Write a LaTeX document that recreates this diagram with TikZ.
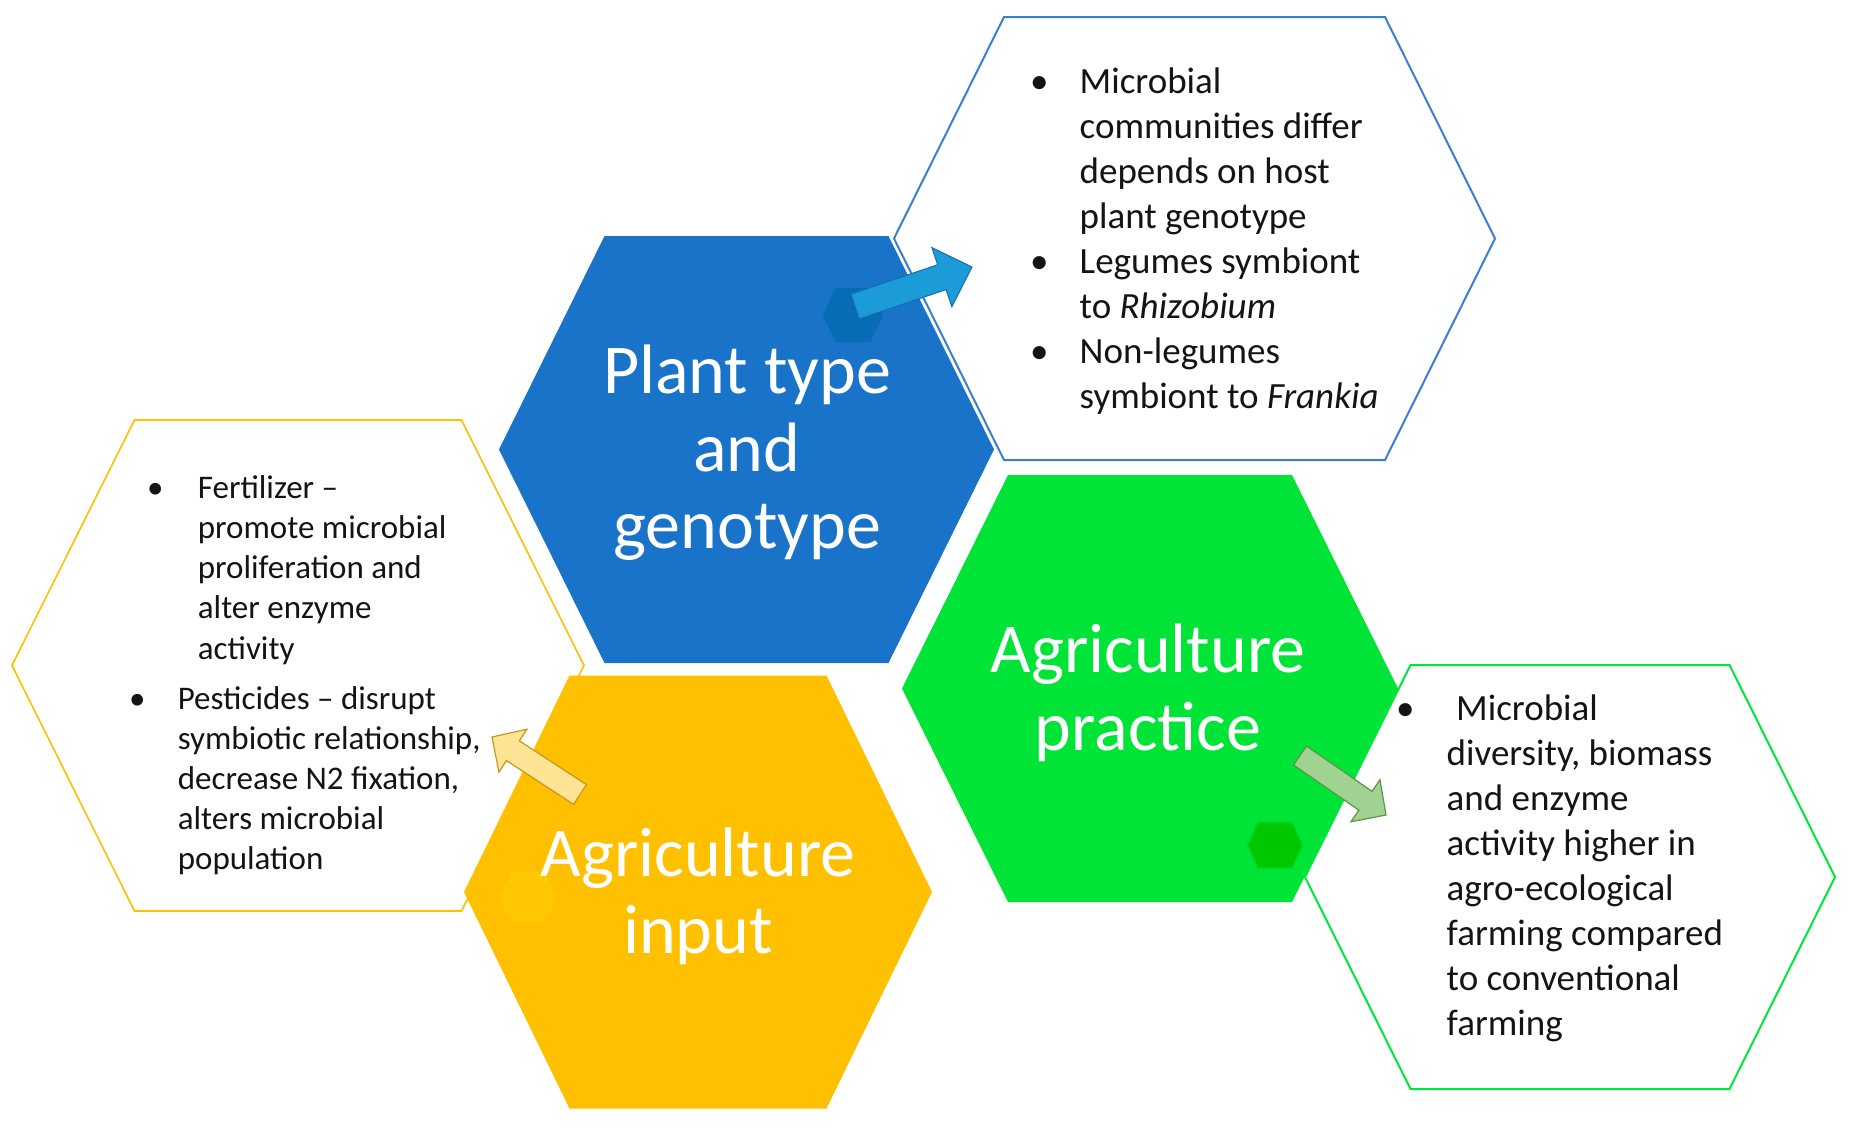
\documentclass[tikz,border=0pt]{standalone}
\usepackage{fontspec}
\setmainfont{Carlito}
\usetikzlibrary{calc}
\definecolor{hexblue}{RGB}{24,115,201}
\definecolor{hexgreen}{RGB}{0,228,56}
\definecolor{hexyellow}{RGB}{255,192,0}
\definecolor{smblue}{RGB}{6,108,182}
\definecolor{smgreen}{RGB}{0,200,0}
\definecolor{smgreenl}{RGB}{0,215,30}
\definecolor{smyellow}{RGB}{255,200,0}
\definecolor{olblue}{RGB}{58,127,213}
\definecolor{olgreen}{RGB}{0,230,60}
\definecolor{olyellow}{RGB}{255,192,0}
\definecolor{arblue}{RGB}{27,155,215}
\definecolor{arbluel}{RGB}{20,110,170}
\definecolor{aryellow}{RGB}{255,228,150}
\definecolor{aryellowl}{RGB}{200,150,30}
\definecolor{argreen}{RGB}{160,210,145}
\definecolor{argreenl}{RGB}{90,150,70}
\definecolor{txt}{RGB}{20,20,20}
\tikzset{
  hexa/.style n args={5}{insert path={({#1-#3},{#2}) -- ({#1-#4},{#2-#5}) -- ({#1+#4},{#2-#5}) -- ({#1+#3},{#2}) -- ({#1+#4},{#2+#5}) -- ({#1-#4},{#2+#5}) -- cycle}},
  title/.style={font=\fontsize{70}{77}\selectfont, text=white, inner sep=0pt, anchor=base},
  bodyl/.style={font=\fontsize{37}{45}\selectfont, text=txt, inner sep=0pt, anchor=base west},
  bodys/.style={font=\fontsize{33}{40}\selectfont, text=txt, inner sep=0pt, anchor=base west},
  olbox/.style={fill=white, line join=miter},
}
\newcommand\blockarrow[6]{%
  \coordinate (hbtmp) at ($(#3)!#6!(#2)$);
  \filldraw[#1] ($(#2)!#4!90:(#3)$) -- ($(hbtmp)!#4!90:(#3)$) -- ($(hbtmp)!#5!90:(#3)$) -- (#3) -- ($(hbtmp)!#5!-90:(#3)$) -- ($(hbtmp)!#4!-90:(#3)$) -- ($(#2)!#4!-90:(#3)$) -- cycle;}
\begin{document}
\begin{tikzpicture}[x=1pt, y=-1pt]
\useasboundingbox[fill=white] (0,0) rectangle (1856,1136);
% outlined white hexagons
\filldraw[olbox, draw=olblue, line width=2pt] [hexa={1194.5}{238.5}{300.5}{190.5}{221.5}];
\filldraw[olbox, draw=olyellow, line width=1.6pt] [hexa={298}{665.5}{286}{163.5}{245.5}];
\filldraw[olbox, draw=olgreen, line width=2pt] [hexa={1570}{877}{265}{159.5}{212}];
% coloured hexagons
\fill[hexblue] [hexa={746.5}{449.5}{247.5}{142}{213.5}];
\fill[hexgreen] [hexa={1150}{688.5}{248}{142}{213.5}];
\fill[hexyellow] [hexa={698}{892}{234}{128.5}{216.5}];
% small hexagons
\fill[smblue] [hexa={853}{315}{30}{17.5}{27}];
\fill[smyellow] [hexa={528}{897}{29.5}{16}{25}];
\filldraw[smgreen, draw=smgreenl, line width=1.5pt] [hexa={1275}{845}{27.5}{17}{23}];
% arrows
\coordinate (bt) at (855,306.5);
\coordinate (bh) at (972,267);
\blockarrow{fill=arblue, draw=arbluel, line width=1pt}{bt}{bh}{13.1pt}{31.2pt}{31.8pt}
\coordinate (yt) at (580,794.5);
\coordinate (yh) at (492,737);
\blockarrow{fill=aryellow, draw=aryellowl, line width=1.2pt}{yt}{yh}{11.8pt}{25.6pt}{25pt}
\coordinate (gt) at (1300,755.5);
\coordinate (gh) at (1386,815);
\blockarrow{fill=argreen, draw=argreenl, line width=1.2pt}{gt}{gh}{11.5pt}{25.5pt}{25pt}
% titles
\node[title] (pt1) at (747,393) {Plant type};
\node[title] (pt2) at (747,471) {and};
\node[title] (pt3) at (747,548) {genotype};
\node[title] (ap1) at (1148,672) {Agriculture};
\node[title] (ap2) at (1148,750) {practice};
\node[title] (ai1) at (698,876) {Agriculture};
\node[title] (ai2) at (698,953) {input};
% top-right list
\node[bodyl] (trb1) at (1030,93) {•};
\node[bodyl] (trb2) at (1030,273) {•};
\node[bodyl] (trb3) at (1030,363) {•};
\foreach \t [count=\i from 0] in {Microbial, communities differ, depends on host, plant genotype, Legumes symbiont, to \textit{Rhizobium}, Non-legumes, symbiont to \textit{Frankia}}
  \node[bodyl] (tr\i) at (1079.5,{93+45.1*\i}) {\t};
% left list
\node[bodys] (lb1) at (147,498) {•};
\foreach \t [count=\i from 0] in {Fertilizer –, promote microbial, proliferation and, alter enzyme, activity}
  \node[bodys] (la\i) at (197.7,{498+40.25*\i}) {\t};
\node[bodys] (lb2) at (129,709) {•};
\foreach \t [count=\i from 0] in {Pesticides – disrupt, {symbiotic relationship,}, {decrease N2 fixation,}, alters microbial, population}
  \node[bodys] (lp\i) at (177.6,{709+40.1*\i}) {\t};
% bottom-right list
\node[bodyl] (brb) at (1396,720) {•};
\node[bodyl] (br0) at (1456,720) {Microbial};
\foreach \t [count=\i from 1] in {{diversity, biomass}, and enzyme, activity higher in, agro-ecological, farming compared, to conventional, farming}
  \node[bodyl] (br\i) at (1446.5,{720+45*\i}) {\t};
\end{tikzpicture}
\end{document}
